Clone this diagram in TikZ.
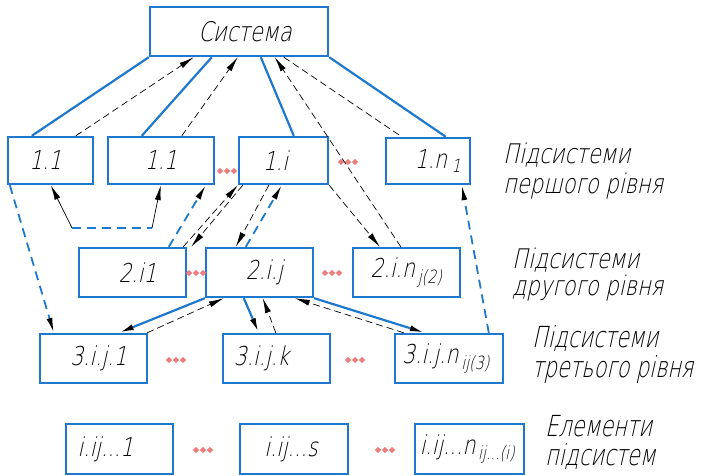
\documentclass[tikz,border=0pt]{standalone}
\usepackage{fontspec}
\usetikzlibrary{arrows.meta}
\newfontfamily\gost{DejaVuSans-ExtraLight.ttf}[FakeSlant=0.22,FakeStretch=0.78]
\newfontfamily\gostn{DejaVuSans-ExtraLight.ttf}[FakeSlant=0.22,FakeStretch=0.72]
\definecolor{myblue}{RGB}{30,120,205}
\definecolor{dotred}{RGB}{235,125,125}
\newcommand\sh[2]{\makebox[0pt]{\hspace*{#1}#2}}
\newcommand\sbs[2][2.8pt]{\kern#1\textsubscript{#2}}
\begin{document}
\begin{tikzpicture}[x=1pt,y=-1pt,
  box/.style={draw=myblue,line width=2.4pt,inner sep=0pt,minimum height=48pt,font=\gost\fontsize{26}{28}\selectfont},
  lbl/.style={anchor=north west,align=left,inner sep=0pt,font=\gost\fontsize{27}{30}\selectfont},
  lblb/.style={anchor=north west,align=left,inner sep=0pt,font=\gostn\fontsize{29}{30}\selectfont},
  bln/.style={draw=myblue,line width=2.2pt},
  bdsh/.style={draw=myblue,line width=1.8pt,dash pattern=on 9pt off 6pt},
  dsh/.style={draw=black,line width=0.7pt,dash pattern=on 7pt off 4pt},
  blk/.style={draw=black,line width=0.7pt},
  arr/.style={-{Latex[length=15pt,width=6pt,color=black]}},
  reddots/.pic={\foreach \k in {-7,0,7} {\fill[dotred] ({\k-3.3},0) -- (\k,-3) -- ({\k+3.3},0) -- (\k,3) -- cycle;}}]
\useasboundingbox (0,0) rectangle (715,476);
% boxes
\node[box,minimum width=178pt,minimum height=49pt,font=\gost\fontsize{27}{29}\selectfont] (sys) at (239,31.5) {\sh{12pt}{Система}};
\node[box,minimum width=85pt,minimum height=47pt] (a1) at (50.5,160.5) {\sh{-10pt}{1.1}};
\node[box,minimum width=106pt,minimum height=47pt] (a2) at (161,160.5) {1.1};
\node[box,minimum width=89pt,minimum height=47pt] (a3) at (283.5,160.5) {\sh{-16pt}{1.i}};
\node[box,minimum width=84pt,minimum height=46pt] (a4) at (428,161) {\sh{20pt}{1.n\sbs[4.5pt]{1}}};
\node[box,minimum width=107pt,minimum height=49pt] (b1) at (132.5,272.5) {\sh{10pt}{2.i1}};
\node[box,minimum width=107pt,minimum height=49pt] (b2) at (259.5,272.5) {\sh{10pt}{2.i.j}};
\node[box,minimum width=107pt,minimum height=49pt] (b3) at (406.5,272.5) {2.i.n\sbs{j(2)}};
\node[box,minimum width=107pt,minimum height=49pt] (c1) at (93.5,358.5) {\sh{10pt}{3.i.j.1}};
\node[box,minimum width=107pt,minimum height=49pt] (c2) at (276.5,358.5) {\sh{-30pt}{3.i.j.k}};
\node[box,minimum width=108pt,minimum height=49pt] (c3) at (449,358.5) {\sh{-6pt}{3.i.j.n\sbs{ij(3)}}};
\node[box,minimum width=107pt,minimum height=50pt] (e1) at (119.5,449) {\sh{-28pt}{i.ij...1}};
\node[box,minimum width=108pt,minimum height=50pt] (e2) at (294,449) {\sh{-6pt}{i.ij...s}};
\node[box,minimum width=109pt,minimum height=50pt] (e3) at (469.5,449) {\sh{-4pt}{i.ij...n\sbs{ij...(i)}}};
% labels
\node[lbl] (l1) at (503,143) {Підсистеми\\першого рівня};
\node[lbl] (l2) at (512,248) {Підсистеми\\[-3pt]другого рівня};
\node[lblb] (l3) at (532,325) {Підсистеми\\третього рівня};
\node[lblb] (l4) at (545,415) {Елементи\\[-1pt]підсистем};
% red dots
\pic at (227,171) {reddots};
\pic at (348,162) {reddots};
\pic at (196,273) {reddots};
\pic at (332,273) {reddots};
\pic at (176,360) {reddots};
\pic at (355,360) {reddots};
\pic at (203,450) {reddots};
\pic at (385,450) {reddots};
% system to level 1
\draw[bln] (sys.south west) -- ([xshift=25pt]a1.north west);
\draw[bln] ([xshift=63pt]sys.south west) -- ([xshift=35pt]a2.north west);
\draw[bln] ([xshift=112pt]sys.south west) -- ([xshift=56pt]a3.north west);
\draw[bln] (sys.south east) -- ([xshift=61pt]a4.north west);
\draw[dsh,arr] ([xshift=69pt]a1.north west) -- ([xshift=45pt]sys.south west);
\draw[dsh,arr] ([xshift=75pt]a2.north west) -- ([xshift=89pt]sys.south west);
\draw[dsh,arr] ([xshift=49pt]b3.north west) -- ([xshift=126pt]sys.south west);
\draw[dsh] ([xshift=135pt]sys.south west) -- ([xshift=17pt]a4.north west);
% level 1 - level 2
\coordinate (k1) at (72,228);
\coordinate (k2) at (152,228);
\draw[blk,arr] (k1) -- ([xshift=44pt]a1.south west);
\draw[bdsh] (k1) -- (k2);
\draw[blk,arr] (k2) -- ([xshift=54pt]a2.south west);
\draw[bdsh,arr] ([xshift=91pt]b1.north west) -- ([xshift=99pt]a2.south west);
\draw[dsh,arr] ([xshift=-4pt]b1.north east) -- (a3.south west);
\draw[dsh,arr] ([xshift=5pt]a3.south west) -- ([xshift=4pt]b1.north east);
\draw[dsh,arr] ([xshift=31pt]a3.south west) -- ([xshift=31pt]b2.north west);
\draw[bdsh,arr] ([xshift=41pt]b2.north west) -- ([xshift=44pt]a3.south west);
\draw[dsh,arr] (a3.south east) -- ([xshift=28pt]b3.north west);
% level 1 - level 3
\draw[bdsh,arr] ([xshift=3pt]a1.south west) -- ([xshift=15pt]c1.north west);
\draw[bdsh,arr] ([xshift=95pt]c3.north west) -- ([xshift=77pt]a4.south west);
% level 2 - level 3
\draw[bln,arr] (b2.south west) -- ([xshift=80pt]c1.north west);
\draw[dsh,arr] ([xshift=-1pt]c1.north east) -- ([xshift=19pt]b2.south west);
\draw[bln,arr] ([xshift=39pt]b2.south west) -- ([xshift=37pt]c2.north west);
\draw[dsh,arr] ([xshift=54pt]c2.north west) -- ([xshift=58pt]b2.south west);
\draw[bln,arr] (b2.south east) -- ([xshift=31pt]c3.north west);
\draw[dsh,arr] ([xshift=10pt]c3.north west) -- ([xshift=90pt]b2.south west);
\end{tikzpicture}
\end{document}
